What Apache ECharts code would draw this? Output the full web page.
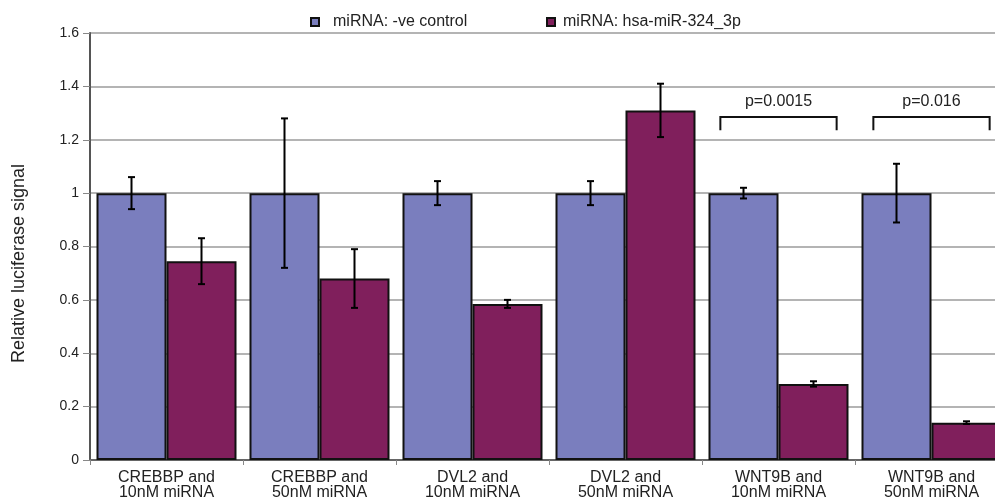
<!DOCTYPE html>
<html>
<head>
<meta charset="utf-8">
<script src="https://cdn.jsdelivr.net/npm/echarts@6/dist/echarts.min.js"></script>
<style>html,body{margin:0;padding:0;background:#fff;overflow:hidden;width:995px;height:503px;}#c{width:1008px;height:503px;}</style>
</head>
<body>
<div id="c"></div>
<script>
var categories = ['CREBBP and\n10nM miRNA','CREBBP and\n50nM miRNA','DVL2 and\n10nM miRNA','DVL2 and\n50nM miRNA','WNT9B and\n10nM miRNA','WNT9B and\n50nM miRNA'];
var seriesNames = ['miRNA: -ve control','miRNA: hsa-miR-324_3p'];
var controlValues = [1, 1, 1, 1, 1, 1];
var controlErrors = [0.06, 0.28, 0.045, 0.045, 0.02, 0.11];
var mirValues = [0.745, 0.68, 0.585, 1.31, 0.285, 0.14];
var mirErrors = [0.086, 0.11, 0.015, 0.10, 0.01, 0.005];
var yTicks = [0, 0.2, 0.4, 0.6, 0.8, 1, 1.2, 1.4, 1.6];
var brackets = [
  {cat: 4, top: 1.285, bottom: 1.236, label: 'p=0.0015'},
  {cat: 5, top: 1.285, bottom: 1.236, label: 'p=0.016'}
];

var catGap = 0.085;
function errData(vals, errs){ return vals.map(function(v,i){ return [i, v-errs[i], v+errs[i]]; }); }
function errRender(side){
  return function(params, api){
    var band = api.size([1,0])[0];
    var off = side * band * (1-catGap) / 4;
    var lo = api.coord([api.value(0), api.value(1)]);
    var hi = api.coord([api.value(0), api.value(2)]);
    var x = lo[0] + off, cw = 3.5;
    var st = {stroke:'#000', lineWidth:2};
    return {type:'group', children:[
      {type:'line', shape:{x1:x,y1:lo[1],x2:x,y2:hi[1]}, style:st},
      {type:'line', shape:{x1:x-cw,y1:lo[1],x2:x+cw,y2:lo[1]}, style:st},
      {type:'line', shape:{x1:x-cw,y1:hi[1],x2:x+cw,y2:hi[1]}, style:st}
    ]};
  };
}
var bracketData = brackets.map(function(b){ return [b.cat, b.top, b.bottom]; });

var chart = echarts.init(document.getElementById('c'));
var txt = '#222';
chart.setOption({
  animation:false,
  backgroundColor:'#fff',
  textStyle:{fontFamily:'Liberation Sans, Arial, sans-serif'},
  legend:[
    {data:[seriesNames[0]], icon:'rect', left:305, top:9, itemWidth:8, itemHeight:8, textStyle:{fontSize:16, color:txt, padding:[0,0,0,9]}},
    {data:[seriesNames[1]], icon:'rect', left:541, top:9, itemWidth:8, itemHeight:8, textStyle:{fontSize:16, color:txt, padding:[0,0,0,3]}}
  ],
  grid:{left:90, right:0, top:33, bottom:43},
  xAxis:{
    type:'category', data:categories,
    axisLine:{lineStyle:{color:'#666', width:2}},
    axisTick:{show:true, length:5, lineStyle:{color:'#888'}},
    axisLabel:{fontSize:16, color:txt, lineHeight:15, margin:10, interval:0}
  },
  yAxis:{
    type:'value', min:0, max:1.6, interval:0.2,
    name:'Relative luciferase signal', nameLocation:'middle', nameGap:62, nameRotate:90,
    nameTextStyle:{fontSize:18, color:txt, padding:[0,34,0,0]},
    axisLine:{show:true, lineStyle:{color:'#555', width:2}},
    axisTick:{show:true, length:7, lineStyle:{color:'#888'}},
    axisLabel:{fontSize:14, color:txt, margin:11, formatter:function(v){ var t=yTicks.filter(function(k){return Math.abs(k-v)<1e-9;}); return t.length? String(Math.round(t[0]*10)/10) : ''; }},
    splitLine:{lineStyle:{color:'#b4b4b4', width:2}}
  },
  series:[
    {name:seriesNames[0], type:'bar', data:controlValues, barGap:'0%', barCategoryGap:(catGap*100)+'%',
      itemStyle:{color:'#7a7ebe', borderColor:'#111', borderWidth:2}},
    {name:seriesNames[1], type:'bar', data:mirValues,
      itemStyle:{color:'#801f5c', borderColor:'#111', borderWidth:2}},
    {type:'custom', data:errData(controlValues, controlErrors), renderItem:errRender(-1), z:5, silent:true},
    {type:'custom', data:errData(mirValues, mirErrors), renderItem:errRender(1), z:5, silent:true},
    {type:'custom', data:bracketData, z:5, silent:true,
      renderItem:function(params, api){
        var band = api.size([1,0])[0];
        var hw = band*0.38;
        var t = api.coord([api.value(0), api.value(1)]);
        var b = api.coord([api.value(0), api.value(2)]);
        var x = t[0];
        var st = {stroke:'#111', lineWidth:2, fill:null};
        return {type:'group', children:[
          {type:'polyline', shape:{points:[[x-hw,b[1]],[x-hw,t[1]],[x+hw,t[1]],[x+hw,b[1]]]}, style:st},
          {type:'text', style:{text:brackets[params.dataIndex].label, x:x, y:t[1]-15, align:'center', verticalAlign:'middle', fontSize:16, fill:txt, fontFamily:'Liberation Sans, Arial, sans-serif'}}
        ]};
      }}
  ]
});
</script>
</body>
</html>
